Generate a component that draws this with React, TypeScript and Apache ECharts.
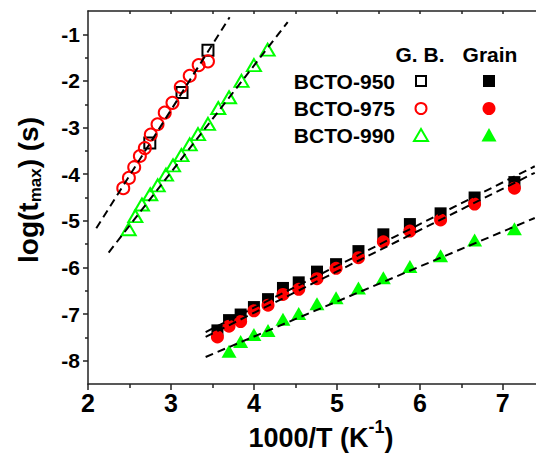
import { useEffect, useRef } from "react";
import * as echarts from "echarts";

// ---- Data ----
// Grain boundary (G. B.) — hollow markers
const gbX950 = [2.745, 3.133, 3.446];
const gbY950 = [-3.33, -2.25, -1.34];
const gbX975 = [2.425, 2.493, 2.557, 2.625, 2.685, 2.757, 2.838, 2.925, 3.018, 3.118, 3.226, 3.334, 3.446];
const gbY975 = [-4.3, -4.08, -3.85, -3.61, -3.44, -3.15, -2.93, -2.68, -2.47, -2.13, -1.89, -1.66, -1.58];
const gbX990 = [2.49, 2.57, 2.65, 2.75, 2.84, 2.94, 3.025, 3.126, 3.226, 3.326, 3.446, 3.57, 3.7, 3.85, 4.0, 4.165];
const gbY990 = [-5.18, -4.9, -4.65, -4.43, -4.24, -4.01, -3.81, -3.59, -3.36, -3.14, -2.92, -2.58, -2.35, -2.0, -1.66, -1.33];

// Grain — filled markers
const grX = [3.56, 3.7, 3.84, 4.0, 4.17, 4.35, 4.54, 4.76, 4.99, 5.26, 5.56, 5.88, 6.25, 6.66, 7.14];
const grY950 = [-7.35, -7.13, -7.01, -6.85, -6.68, -6.44, -6.32, -6.09, -5.93, -5.65, -5.29, -5.07, -4.84, -4.5, -4.17];
const grY975 = [-7.49, -7.26, -7.16, -6.93, -6.81, -6.58, -6.47, -6.24, -6.02, -5.79, -5.45, -5.22, -4.98, -4.64, -4.3];
const grX990 = [3.7, 3.84, 4.0, 4.17, 4.35, 4.54, 4.76, 4.99, 5.26, 5.56, 5.88, 6.25, 6.66, 7.14];
const grY990 = [-7.8, -7.59, -7.44, -7.35, -7.11, -6.99, -6.78, -6.65, -6.44, -6.22, -5.98, -5.75, -5.41, -5.17];

// Linear fits (end points)
const fitGB975 = [[2.1, -5.16], [3.707, -0.634]];
const fitGB990 = [[2.249, -5.68], [4.407, -0.74]];
const fitGr950 = [[3.418, -7.386], [7.385, -3.83]];
const fitGr975 = [[3.418, -7.49], [7.385, -3.97]];
const fitGr990 = [[3.418, -7.92], [7.385, -4.94]];

// Axis ticks
const xMajor = [2, 3, 4, 5, 6, 7];
const xMinor = [2.5, 3.5, 4.5, 5.5, 6.5];
const xTop = [2.5, 3, 3.5, 4, 4.5, 5, 5.5, 6, 6.5, 7];
const yMajor = [-8, -7, -6, -5, -4, -3, -2, -1];
const yMinor = [-7.5, -6.5, -5.5, -4.5, -3.5, -2.5, -1.5];

const legendNames = ["BCTO-950", "BCTO-975", "BCTO-990"];
const legendHeads = ["G. B.", "Grain"];

const FONT = "'Liberation Sans', Arial, Helvetica, sans-serif";
const RED = "#ff0000";
const GREEN = "#00ff00";
const AXIS = "#222";

const pairs = (xs: number[], ys: number[]) => xs.map((x, i) => [x, ys[i]]);

export default function App() {
  const ref = useRef<HTMLDivElement>(null);

  useEffect(() => {
    if (!ref.current) return;
    const chart = echarts.init(ref.current, null, { renderer: "svg" });

    const axLine = { show: true, onZero: false, lineStyle: { color: AXIS, width: 1.5 } };
    const tickStyle = { color: AXIS, width: 1.5 };

    const hollow = (name: string, xs: number[], ys: number[], symbol: string, size: any, color: string) => ({
      name,
      type: "scatter",
      data: pairs(xs, ys),
      symbol,
      symbolSize: size,
      itemStyle: { color: "rgba(0,0,0,0)", borderColor: color, borderWidth: 2, opacity: 1 },
      z: 3,
    });
    const filled = (name: string, xs: number[], ys: number[], symbol: string, size: any, color: string) => ({
      name,
      type: "scatter",
      data: pairs(xs, ys),
      symbol,
      symbolSize: size,
      itemStyle: { color, opacity: 1 },
      z: 3,
    });
    const fit = (name: string, d: number[][]) => ({
      name,
      type: "line",
      data: d,
      symbol: "none",
      silent: true,
      lineStyle: { color: "#000", width: 2, type: [8, 5] },
      z: 5,
    });

    const legText = (text: string, x: number, y: number, align: string) => ({
      type: "text",
      x,
      y,
      style: {
        text,
        fontSize: 21,
        fontWeight: "bold",
        fontFamily: FONT,
        fill: "#000",
        align,
        verticalAlign: "middle",
      },
    });

    const rowY = [81, 108.5, 135.5];
    const colGB = 421;
    const colGr = 489;

    const option: any = {
      animation: false,
      grid: { left: 88, top: 11, right: -1, bottom: 70 },
      xAxis: [
        {
          type: "value",
          position: "bottom",
          min: 2,
          max: 7.4,
          axisLine: axLine,
          axisTick: { show: true, customValues: xMajor, length: 6, lineStyle: tickStyle },
          axisLabel: {
            customValues: xMajor,
            fontSize: 25,
            fontWeight: "bold",
            fontFamily: FONT,
            color: "#000",
            margin: 6,
          },
          splitLine: { show: false },
        },
        {
          type: "value",
          position: "bottom",
          min: 2,
          max: 7.4,
          axisLine: { show: false, onZero: false },
          axisTick: { show: true, customValues: xMinor, length: 4, lineStyle: tickStyle },
          axisLabel: { show: false },
          splitLine: { show: false },
        },
        {
          type: "value",
          position: "top",
          min: 2,
          max: 7.4,
          axisLine: axLine,
          axisTick: { show: true, customValues: xTop, inside: true, length: 3, lineStyle: tickStyle },
          axisLabel: { show: false },
          splitLine: { show: false },
        },
      ],
      yAxis: [
        {
          type: "value",
          position: "left",
          min: -8.5,
          max: -0.5,
          axisLine: axLine,
          axisTick: { show: true, customValues: yMajor, length: 5, lineStyle: tickStyle },
          axisLabel: {
            customValues: yMajor,
            fontSize: 21,
            fontWeight: "bold",
            fontFamily: FONT,
            color: "#000",
            margin: 8,
          },
          splitLine: { show: false },
        },
        {
          type: "value",
          position: "left",
          min: -8.5,
          max: -0.5,
          axisLine: { show: false, onZero: false },
          axisTick: { show: true, customValues: yMinor, length: 3, lineStyle: tickStyle },
          axisLabel: { show: false },
          splitLine: { show: false },
        },
      ],
      series: [
        hollow("G.B. BCTO-950", gbX950, gbY950, "rect", 11, "#000"),
        hollow("G.B. BCTO-975", gbX975, gbY975, "circle", 12, RED),
        hollow("G.B. BCTO-990", gbX990, gbY990, "triangle", [14, 12], GREEN),
        filled("Grain BCTO-950", grX, grY950, "rect", 12, "#000"),
        filled("Grain BCTO-975", grX, grY975, "circle", 13, RED),
        filled("Grain BCTO-990", grX990, grY990, "triangle", [15, 13], GREEN),
        fit("fit G.B. 950/975", fitGB975),
        fit("fit G.B. 990", fitGB990),
        fit("fit Grain 950", fitGr950),
        fit("fit Grain 975", fitGr975),
        fit("fit Grain 990", fitGr990),
      ],
      graphic: [
        // axis titles
        {
          type: "text",
          x: 321,
          y: 437.5,
          style: {
            text: "{a|1000/T (K}{b|-1}{a|)}",
            align: "center",
            verticalAlign: "middle",
            fill: "#000",
            rich: {
              a: { fontSize: 27, fontWeight: "bold", fontFamily: FONT, lineHeight: 40, fill: "#000" },
              b: { fontSize: 18, fontWeight: "bold", fontFamily: FONT, lineHeight: 18, verticalAlign: "top", fill: "#000" },
            },
          },
        },
        {
          type: "text",
          x: 28,
          y: 190,
          rotation: Math.PI / 2,
          style: {
            text: "{a|log(t}{b|max}{a|) (s)}",
            align: "center",
            verticalAlign: "middle",
            fill: "#000",
            rich: {
              a: { fontSize: 28, fontWeight: "bold", fontFamily: FONT, lineHeight: 32, fill: "#000" },
              b: { fontSize: 17, fontWeight: "bold", fontFamily: FONT, lineHeight: 20, verticalAlign: "bottom", fill: "#000" },
            },
          },
        },
        // legend headers
        legText(legendHeads[0], 420, 54, "center"),
        legText(legendHeads[1], 490, 54, "center"),
        // legend rows
        legText(legendNames[0], 395, rowY[0], "right"),
        legText(legendNames[1], 395, rowY[1], "right"),
        legText(legendNames[2], 395, rowY[2], "right"),
        // G.B. markers
        {
          type: "rect",
          shape: { x: colGB - 5, y: rowY[0] - 5, width: 10, height: 10 },
          style: { fill: "none", stroke: "#000", lineWidth: 2 },
        },
        {
          type: "circle",
          shape: { cx: colGB, cy: rowY[1], r: 5.5 },
          style: { fill: "none", stroke: RED, lineWidth: 2 },
        },
        {
          type: "polygon",
          shape: { points: [[colGB, rowY[2] - 6.5], [colGB - 7, rowY[2] + 5.5], [colGB + 7, rowY[2] + 5.5]] },
          style: { fill: "none", stroke: GREEN, lineWidth: 2 },
        },
        // Grain markers
        {
          type: "rect",
          shape: { x: colGr - 6, y: rowY[0] - 6, width: 12, height: 12 },
          style: { fill: "#000" },
        },
        {
          type: "circle",
          shape: { cx: colGr, cy: rowY[1], r: 6.5 },
          style: { fill: RED },
        },
        {
          type: "polygon",
          shape: { points: [[colGr, rowY[2] - 7.5], [colGr - 7.5, rowY[2] + 6], [colGr + 7.5, rowY[2] + 6]] },
          style: { fill: GREEN },
        },
      ],
    };

    chart.setOption(option);
    return () => {
      chart.dispose();
    };
  }, []);

  return (
    <div
      ref={ref}
      style={{ position: "fixed", left: 0, top: 0, width: 536, height: 454, background: "#fff" }}
    />
  );
}
